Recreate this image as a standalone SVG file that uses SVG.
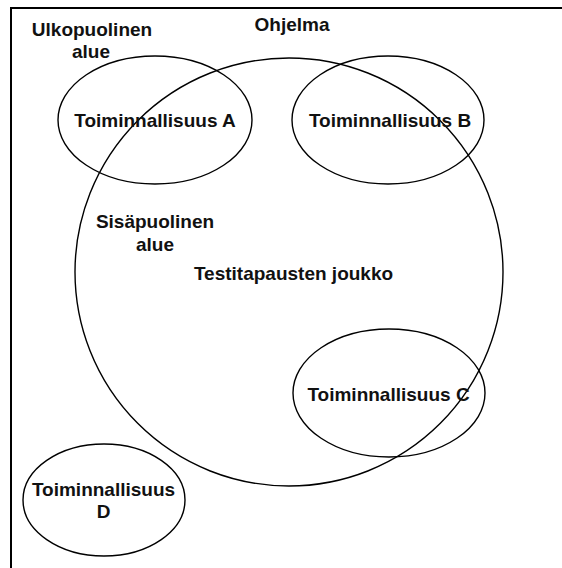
<svg xmlns="http://www.w3.org/2000/svg" width="562" height="568" viewBox="0 0 562 568">
<style>
.sh{fill:none;stroke:#000;stroke-width:1.4}
.t{font-family:"Liberation Sans",Arial,sans-serif;font-size:19px;font-weight:bold;fill:#111;text-anchor:middle}
</style>
<rect width="562" height="568" fill="#fff"/>
<g id="frame"><path d="M11,568 V8 H562" fill="none" stroke="#000" stroke-width="2"/></g>
<g id="labels">
<text class="t" x="92" y="36">Ulkopuolinen</text>
<text class="t" x="91" y="58">alue</text>
</g>
<g id="ohjelma">
<circle class="sh" cx="289" cy="272" r="214"/>
<text class="t" x="292" y="31">Ohjelma</text>
<text class="t" x="155" y="228">Sisäpuolinen</text>
<text class="t" x="155" y="251">alue</text>
<text class="t" x="293.5" y="280">Testitapausten joukko</text>
</g>
<g id="toimA">
<ellipse class="sh" cx="155" cy="120" rx="97" ry="64"/>
<text class="t" x="155" y="127">Toiminnallisuus A</text>
</g>
<g id="toimB">
<ellipse class="sh" cx="388" cy="120" rx="96" ry="64"/>
<text class="t" x="390" y="127">Toiminnallisuus B</text>
</g>
<g id="toimC">
<ellipse class="sh" cx="389" cy="393" rx="96" ry="64"/>
<text class="t" x="388.5" y="401">Toiminnallisuus C</text>
</g>
<g id="toimD">
<ellipse class="sh" cx="104" cy="500" rx="81" ry="56"/>
<text class="t" x="103.5" y="496">Toiminnallisuus</text>
<text class="t" x="103.5" y="518">D</text>
</g>
<g id="connectors"></g>
</svg>
